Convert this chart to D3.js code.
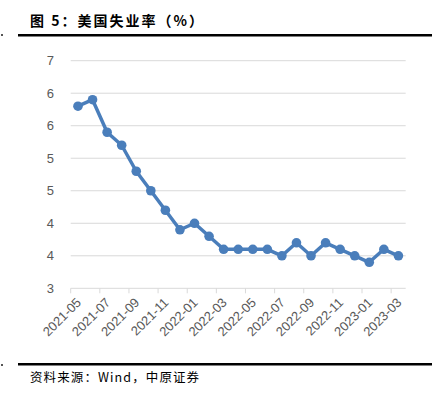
<!DOCTYPE html>
<html>
<head>
<meta charset="utf-8">
<script src="https://cdn.jsdelivr.net/npm/d3@7"></script>
<style>
  body { margin: 0; background: #fff; }
  svg { display: block; }
</style>
</head>
<body>
<svg id="chart" width="440" height="393"></svg>
<script>
// 美国失业率 data (monthly)
var months = ['2021-05','2021-06','2021-07','2021-08','2021-09','2021-10','2021-11','2021-12',
  '2022-01','2022-02','2022-03','2022-04','2022-05','2022-06','2022-07','2022-08','2022-09',
  '2022-10','2022-11','2022-12','2023-01','2023-02','2023-03'];
var rates = [5.8, 5.9, 5.4, 5.2, 4.8, 4.5, 4.2, 3.9, 4.0, 3.8, 3.6, 3.6, 3.6, 3.6, 3.5, 3.7, 3.5,
  3.7, 3.6, 3.5, 3.4, 3.6, 3.5];
var yTicks = [3, 3.5, 4, 4.5, 5, 5.5, 6, 6.5];

var svg = d3.select('#chart');
var cjk = '"Noto Sans CJK SC", "Liberation Sans", sans-serif';

// title + rules
svg.append('text')
  .attr('x', 30).attr('y', 26)
  .attr('font-family', cjk)
  .attr('font-size', 14).attr('font-weight', 'bold')
  .attr('letter-spacing', 2)
  .attr('fill', '#000')
  .text('图 5：美国失业率（%）');
svg.append('rect').attr('x', 18).attr('y', 34).attr('width', 414).attr('height', 2.5).attr('fill', '#000');
svg.append('rect').attr('x', 18).attr('y', 363).attr('width', 414).attr('height', 2.5).attr('fill', '#000');
svg.append('rect').attr('x', 1).attr('y', 34).attr('width', 2).attr('height', 2).attr('fill', '#555');
svg.append('rect').attr('x', 1).attr('y', 364).attr('width', 2).attr('height', 2).attr('fill', '#555');

svg.append('text')
  .attr('x', 30).attr('y', 382)
  .attr('font-family', cjk)
  .attr('font-size', 12.5)
  .attr('letter-spacing', 1.1)
  .attr('fill', '#000')
  .text('资料来源：Wind，中原证券');

// plot area
var pLeft = 70.7, pRight = 405.7, pTop = 60.7, pBottom = 288.3;

var x = d3.scaleBand().domain(months).range([pLeft, pRight]).padding(0);
var y = d3.scaleLinear().domain([3, 6.5]).range([pBottom, pTop]);

var g = svg.append('g');

// gridlines
g.selectAll('line.grid')
  .data(yTicks)
  .enter().append('line')
  .attr('class', 'grid')
  .attr('x1', pLeft).attr('x2', pRight)
  .attr('y1', function(d){ return y(d); })
  .attr('y2', function(d){ return y(d); })
  .attr('stroke', '#d9d9d9')
  .attr('stroke-width', 1);

// y labels
g.selectAll('text.ylab')
  .data(yTicks)
  .enter().append('text')
  .attr('class', 'ylab')
  .attr('x', 54)
  .attr('y', function(d){ return y(d) + 4.5; })
  .attr('text-anchor', 'end')
  .attr('font-family', '"Liberation Sans", Arial, sans-serif')
  .attr('font-size', 13)
  .attr('fill', '#595959')
  .text(function(d){ return Math.round(d); });

// x tick marks every 2 categories
var tickIdx = d3.range(0, months.length, 2);
g.selectAll('line.xtick')
  .data(tickIdx)
  .enter().append('line')
  .attr('class', 'xtick')
  .attr('x1', function(i){ return x(months[i]); })
  .attr('x2', function(i){ return x(months[i]); })
  .attr('y1', pBottom).attr('y2', pBottom + 5)
  .attr('stroke', '#d9d9d9');

// x labels
g.selectAll('text.xlab')
  .data(tickIdx)
  .enter().append('text')
  .attr('class', 'xlab')
  .attr('transform', function(i){
    var cx = x(months[i]) + x.bandwidth() / 2;
    return 'translate(' + (cx + 4) + ',' + (pBottom + 15) + ') rotate(-45)';
  })
  .attr('text-anchor', 'end')
  .attr('font-family', '"Liberation Sans", Arial, sans-serif')
  .attr('font-size', 13)
  .attr('fill', '#595959')
  .text(function(i){ return months[i]; });

// line + markers
var line = d3.line()
  .x(function(d, i){ return x(months[i]) + x.bandwidth() / 2; })
  .y(function(d){ return y(d); });

g.append('path')
  .datum(rates)
  .attr('d', line)
  .attr('fill', 'none')
  .attr('stroke', '#4a7ebb')
  .attr('stroke-width', 3.5)
  .attr('stroke-linejoin', 'round');

g.selectAll('circle.pt')
  .data(rates)
  .enter().append('circle')
  .attr('class', 'pt')
  .attr('cx', function(d, i){ return x(months[i]) + x.bandwidth() / 2; })
  .attr('cy', function(d){ return y(d); })
  .attr('r', 4.8)
  .attr('fill', '#4a7ebb');
</script>
</body>
</html>
